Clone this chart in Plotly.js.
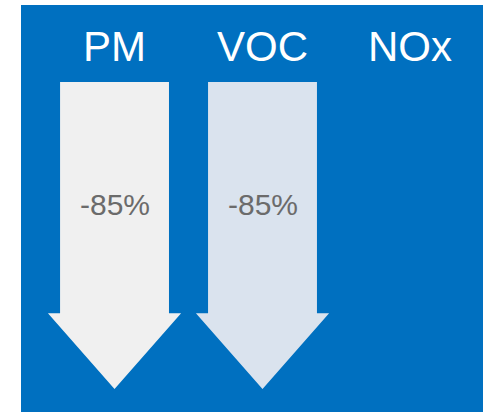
<!DOCTYPE html>
<html>
<head>
<meta charset="utf-8">
<script src="https://cdn.plot.ly/plotly-3.0.1.min.js"></script>
<style>html,body{margin:0;padding:0;background:#fff;}#chart{width:483px;height:412px;}</style>
</head>
<body>
<div id="chart"></div>
<script>
// Data
const categories = ['PM', 'VOC', 'NOx'];
const changes = [-85, -85, null];
const changeLabels = ['-85%', '-85%', ''];

// Styles
const arrowColors = ['#F0F0F0', '#DAE3EE', '#FFFFFF'];
const blue = '#0070C0';
const shaftHalf = 0.368;
const headHalf = 0.45;
const headLen = 21;

const traces = [];
const annotations = [];
categories.forEach((cat, i) => {
  annotations.push({
    x: i, y: 9.7, xref: 'x', yref: 'y', text: cat, showarrow: false,
    xanchor: 'center', yanchor: 'middle',
    font: {family: 'Liberation Sans, Arial, sans-serif', size: 42, color: '#FFFFFF'}
  });
  const v = changes[i];
  if (v === null || v === undefined) return;
  const hs = v + headLen;
  traces.push({
    type: 'scatter', mode: 'lines', fill: 'toself',
    x: [i - shaftHalf, i + shaftHalf, i + shaftHalf, i + headHalf, i, i - headHalf, i - shaftHalf, i - shaftHalf],
    y: [0, 0, hs, hs, v, hs, hs, 0],
    fillcolor: arrowColors[i], line: {width: 0, color: arrowColors[i]},
    hoverinfo: 'skip', showlegend: false
  });
  annotations.push({
    x: i, y: v * 0.4, xref: 'x', yref: 'y', text: changeLabels[i], showarrow: false,
    xanchor: 'center', yanchor: 'middle',
    font: {family: 'Liberation Sans, Arial, sans-serif', size: 30, color: '#6B6B6B'}
  });
});

const layout = {
  width: 483, height: 412,
  margin: {l: 21, r: 0, t: 5, b: 0, pad: 0},
  paper_bgcolor: '#FFFFFF', plot_bgcolor: blue,
  showlegend: false,
  xaxis: {range: [-0.632, 2.49], visible: false, showgrid: false, zeroline: false, fixedrange: true},
  yaxis: {range: [-91.36, 21.32], visible: false, showgrid: false, zeroline: false, fixedrange: true},
  annotations: annotations
};

Plotly.newPlot('chart', traces, layout, {displayModeBar: false, staticPlot: true});
</script>
</body>
</html>
